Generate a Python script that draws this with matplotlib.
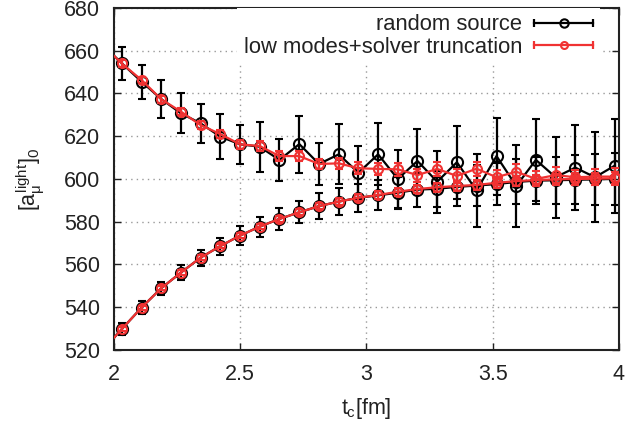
import matplotlib
matplotlib.use("Agg")
import matplotlib.pyplot as plt
from matplotlib.lines import Line2D
from matplotlib.legend_handler import HandlerLine2D, HandlerTuple

plt.rcParams["font.family"] = ["Liberation Sans", "DejaVu Sans"]
plt.rcParams["mathtext.fontset"] = "custom"
plt.rcParams["mathtext.rm"] = "Liberation Sans"
plt.rcParams["mathtext.it"] = "Liberation Sans"

# t_c values [fm]
t_c = [1.953, 2.031, 2.109, 2.187, 2.265, 2.343, 2.421, 2.499, 2.577, 2.655,
       2.734, 2.812, 2.890, 2.968, 3.046, 3.124, 3.202, 3.280, 3.358, 3.436,
       3.515, 3.593, 3.671, 3.749, 3.827, 3.905, 3.983]

# random source
rs_upper = [663.0, 654.1, 645.5, 637.4, 630.7, 626.0, 619.8, 616.2, 615.1, 608.9,
            616.3, 607.0, 611.5, 602.9, 611.5, 600.0, 608.4, 598.7, 607.8, 594.6,
            610.7, 596.7, 608.9, 600.8, 605.3, 600.8, 606.2]
rs_upper_err = [8, 7.8, 8, 9, 9.4, 9, 10.5, 9, 11.7, 9.8, 13.3, 10, 14, 12.5,
                14.5, 13.7, 15, 14.5, 17, 17, 18, 19, 19, 19, 20, 21, 22]
rs_lower = [519.5, 529.8, 539.8, 548.9, 556.2, 563.2, 568.6, 573.5, 577.7, 581.3,
            584.4, 587.3, 589.4, 591.2, 592.3, 593.6, 595.0, 595.4, 596.3, 596.9,
            597.6, 598.6, 599.2, 599.4, 599.6, 599.8, 600.0]
rs_lower_err = [2.5, 2.7, 2.9, 3.1, 3.4, 3.7, 4.0, 4.4, 4.7, 5.2, 5.2, 6.0, 6.4,
                6.6, 7, 7.5, 8, 8.5, 9, 9.5, 10, 10.5, 11, 11, 11.5, 12, 12]

# low modes + solver truncation
lm_upper = [663.0, 654.0, 646.3, 637.3, 631.5, 625.2, 621.0, 616.2, 615.4, 610.7,
            610.7, 607.0, 607.3, 605.0, 604.7, 604.5, 601.8, 604.7, 601.4, 604.8,
            600.8, 603.4, 600.0, 601.8, 600.8, 601.1, 601.1]
lm_upper_err = [1.5, 1.5, 1.6, 1.7, 1.8, 1.9, 2.0, 2.1, 2.2, 2.3, 2.4, 2.5, 2.6,
                2.7, 2.8, 2.9, 3.0, 3.1, 3.2, 3.3, 3.4, 3.5, 3.5, 3.6, 3.6, 3.7, 3.8]
lm_lower = [519.5, 529.8, 539.8, 548.9, 556.2, 563.2, 568.6, 573.5, 577.7, 581.3,
            584.4, 587.3, 589.4, 591.2, 592.5, 594.0, 595.3, 596.1, 596.7, 597.2,
            598.2, 599.0, 599.5, 599.8, 600.0, 600.1, 600.3]
lm_lower_err = [0.8, 0.8, 0.9, 0.9, 1.0, 1.0, 1.1, 1.2, 1.2, 1.3, 1.4, 1.5, 1.6,
                1.7, 1.8, 1.9, 2.0, 2.1, 2.2, 2.3, 2.4, 2.5, 2.5, 2.6, 2.6, 2.7, 2.8]

black = "#000000"
red = "#f03232"

fig = plt.figure(figsize=(6.27, 4.23), dpi=100)
ax = fig.add_axes([0.1818, 0.1726, 0.8054, 0.8087])

for y, e in [(rs_upper, rs_upper_err), (rs_lower, rs_lower_err)]:
    ax.errorbar(t_c, y, yerr=e, color=black, lw=1.6, elinewidth=1.6,
                capsize=2.6, capthick=1.6, marker="o", ms=8,
                mfc="none", mew=1.5, zorder=2)
for y, e in [(lm_upper, lm_upper_err), (lm_lower, lm_lower_err)]:
    ax.errorbar(t_c, y, yerr=e, color=red, lw=1.6, elinewidth=1.4,
                capsize=2.6, capthick=1.4, marker="o", ms=6.5,
                mfc="none", mew=1.5, zorder=3)

ax.set_xlim(2, 4)
ax.set_ylim(520, 680)
ax.set_xticks([2, 2.5, 3, 3.5, 4])
ax.set_xticklabels(["2", "2.5", "3", "3.5", "4"])
ax.set_yticks(range(520, 681, 20))
ax.tick_params(direction="in", length=5, width=1, top=True, right=True,
               labelsize=15.5, colors="#222222", pad=10)
ax.grid(True, color="#999999", linestyle=(0, (1, 3)), linewidth=1)
for s in ax.spines.values():
    s.set_linewidth(1.5)
    s.set_color("#222222")

ax.set_xlabel(r"$t_{\rm c}$[fm]", fontsize=15.5, color="#222222", labelpad=8)
ax.set_ylabel(r"$[a_{\mu}^{\rm light}]_0$", fontsize=15.5, color="#222222", labelpad=12)

# legend samples in gnuplot style: line with caps at both ends and a circle
handles = []
hmap = {}
for c, ms in [(black, 6), (red, 5)]:
    caps = Line2D([], [], color=c, lw=1.6, marker="|", ms=6, mew=1.6)
    circ = Line2D([], [], color=c, lw=0, marker="o", ms=ms, mfc="none", mew=1.5)
    hmap[caps] = HandlerLine2D(numpoints=2, marker_pad=0)
    hmap[circ] = HandlerLine2D(numpoints=1)
    handles.append((caps, circ))

leg = ax.legend(handles, ["random source", "low modes+solver truncation"],
                handler_map={tuple: HandlerTuple(ndivide=1), **hmap},
                loc="upper right", bbox_to_anchor=(0.962, 1.0),
                markerfirst=False, fontsize=15.8, frameon=True,
                facecolor="white", edgecolor="none", framealpha=1,
                fancybox=False, handlelength=2.7, handletextpad=0.55,
                labelspacing=0.05, borderpad=0.3, borderaxespad=0)
for txt in leg.get_texts():
    txt.set_color("#222222")

fig.savefig("out.png", dpi=100)
